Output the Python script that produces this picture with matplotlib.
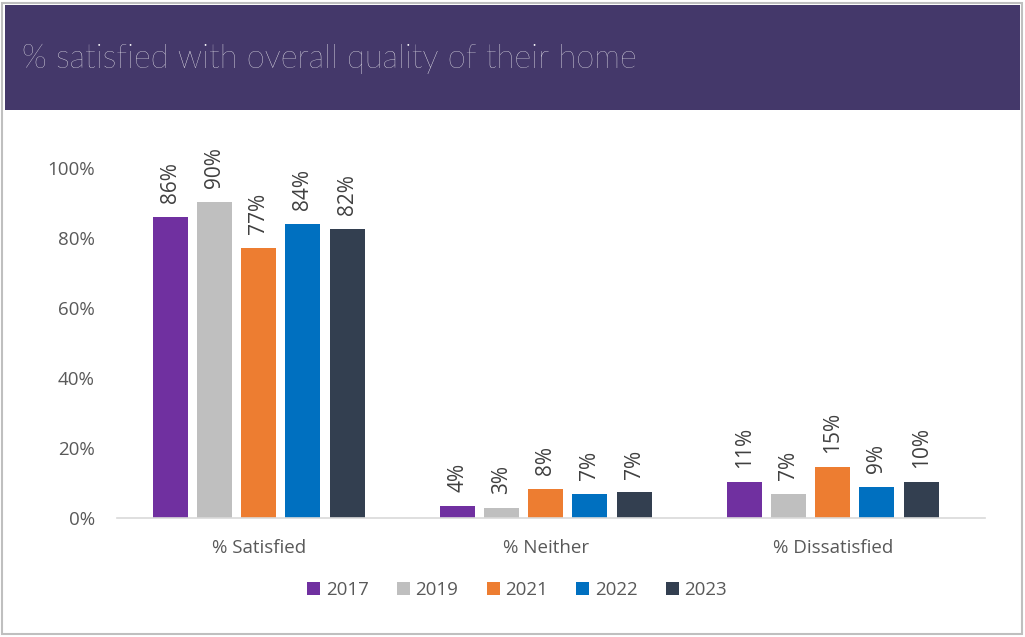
import matplotlib
matplotlib.use("Agg")
import matplotlib.pyplot as plt
import numpy as np
from matplotlib.patches import Rectangle

categories = ["% Satisfied", "% Neither", "% Dissatisfied"]
years = ["2017", "2019", "2021", "2022", "2023"]
values = {
    "2017": [86.0, 3.5, 10.4],
    "2019": [90.2, 3.0, 6.9],
    "2021": [77.1, 8.2, 14.7],
    "2022": [84.0, 6.9, 9.0],
    "2023": [82.6, 7.3, 10.2],
}
labels = {
    "2017": ["86%", "4%", "11%"],
    "2019": ["90%", "3%", "7%"],
    "2021": ["77%", "8%", "15%"],
    "2022": ["84%", "7%", "9%"],
    "2023": ["82%", "7%", "10%"],
}
colors = ["#7030a0", "#bfbfbf", "#ed7d31", "#0070c0", "#333f50"]
title = "% satisfied with overall quality of their home"

W, H = 1025, 637
fig = plt.figure(figsize=(W / 100, H / 100), dpi=100)
font = "Open Sans"

# outer border
fig.patches.append(Rectangle((2 / W, 3 / H), (W - 5) / W, (H - 6) / H,
                             transform=fig.transFigure, fill=False,
                             edgecolor="#bfbfbf", linewidth=1.5))
# title band
fig.patches.append(Rectangle((5 / W, (H - 110) / H), 1015 / W, 105 / H,
                             transform=fig.transFigure, facecolor="#44386a",
                             edgecolor="none"))
fig.text(22 / W, (H - 59) / H, title, color="white", fontsize=23.5,
         family="Lato", fontweight="light", va="center", ha="left")

ax = fig.add_axes([117 / W, (H - 518) / H, (985 - 117) / W, 350 / H])
x = np.arange(len(categories))
width = 0.122
step = 0.1537
for i, (yr, c) in enumerate(zip(years, colors)):
    pos = x + (i - 2) * step
    bars = ax.bar(pos, values[yr], width=width, color=c, label=yr, zorder=2)
    for b, lab in zip(bars, labels[yr]):
        ax.annotate(lab, (b.get_x() + b.get_width() / 2, b.get_height()),
                    xytext=(0, 10), textcoords="offset points", rotation=90,
                    ha="center", va="bottom", fontsize=15, color="#404040",
                    family=font, clip_on=False)

ax.set_ylim(0, 100)
ax.set_xlim(-0.494, 2.530)
ax.set_yticks(np.arange(0, 101, 20))
ax.set_yticklabels([f"{v}%" for v in range(0, 101, 20)])
ax.set_xticks(x)
ax.set_xticklabels(categories)
for s in ["top", "right", "left"]:
    ax.spines[s].set_visible(False)
ax.spines["bottom"].set_color("#d9d9d9")
ax.spines["bottom"].set_linewidth(1.2)
ax.tick_params(axis="both", length=0, labelsize=13.5, labelcolor="#595959")
ax.tick_params(axis="y", pad=16)
ax.tick_params(axis="x", pad=15)
for t in ax.get_xticklabels() + ax.get_yticklabels():
    t.set_family(font)

leg = fig.legend(loc="center", bbox_to_anchor=(517 / W, (H - 590) / H),
                 ncol=5, frameon=False, prop={"family": font, "size": 13.5},
                 handlelength=0.7, handleheight=0.7, handletextpad=0.3,
                 columnspacing=1.5)
for t in leg.get_texts():
    t.set_color("#595959")

fig.savefig("out.png", dpi=100)
